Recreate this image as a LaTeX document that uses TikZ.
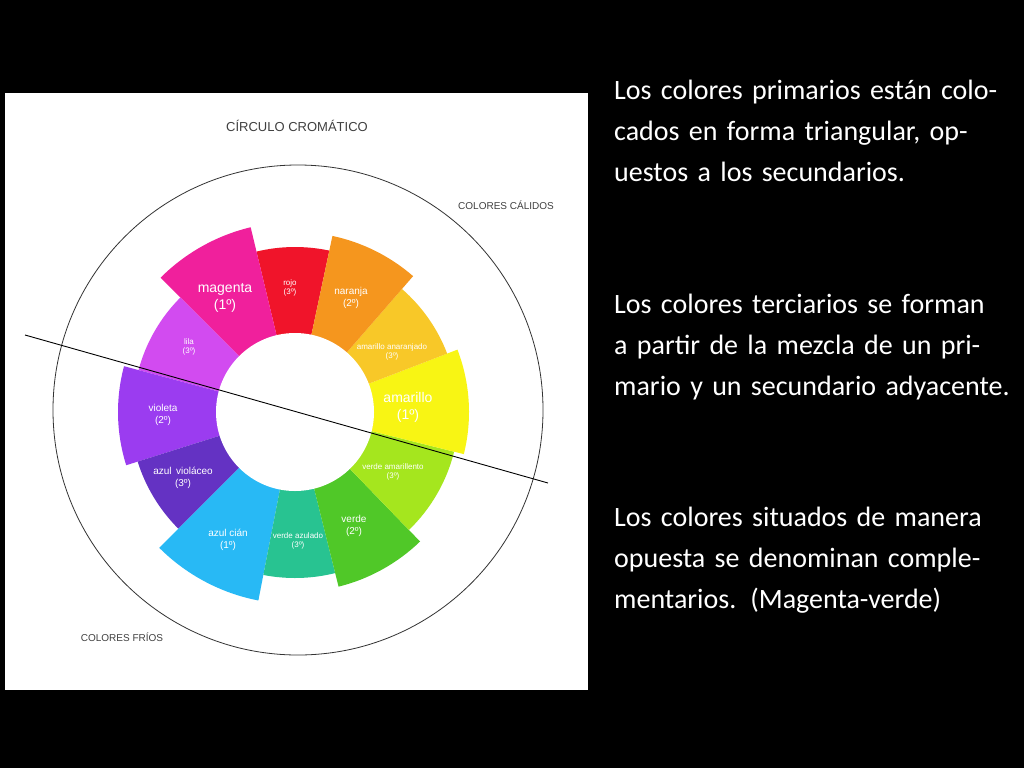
\documentclass[tikz,border=0pt]{standalone}
\usepackage{fontspec}
\setmainfont{Carlito}
\newfontfamily\lab{Liberation Sans}
\definecolor{cmag}{HTML}{F0209C}\definecolor{crojo}{HTML}{F0142A}
\definecolor{cnar}{HTML}{F5961E}\definecolor{caa}{HTML}{F8C828}
\definecolor{cama}{HTML}{F8F514}\definecolor{cva}{HTML}{A5E61E}
\definecolor{cver}{HTML}{50C828}\definecolor{cvaz}{HTML}{28C391}
\definecolor{ccian}{HTML}{28B9F5}\definecolor{cvio}{HTML}{6432C3}
\definecolor{cviol}{HTML}{9B3CF0}\definecolor{clila}{HTML}{D24BF0}
\definecolor{gtxt}{HTML}{404040}
\tikzset{x=1pt,y=-1pt,
 wl/.style={text=white,font=\lab\fontsize{8}{9}\selectfont,align=center,inner sep=0},
 wb/.style={text=white,font=\lab\fontsize{14}{17}\selectfont,align=center,inner sep=0},
 wm/.style={text=white,font=\lab\fontsize{10}{12}\selectfont,align=center,inner sep=0},
 gl/.style={text=gtxt,font=\lab\fontsize{10}{12}\selectfont,inner sep=0},
 body/.style={text=white,font=\fontsize{28}{41}\selectfont,align=left,anchor=north west,inner sep=0,text width=400pt}}
\begin{document}
\begin{tikzpicture}
\fill[black] (0,0) rectangle (1024,768);
\useasboundingbox (0,0) rectangle (1024,768);
\fill[white] (5,93) rectangle (588,690);
\node[gl,font=\lab\fontsize{13}{15}\selectfont] (title) at (297,126) {CÍRCULO CROMÁTICO};
\node[gl] (cal) at (506,205) {COLORES CÁLIDOS};
\node[gl] (fri) at (122,637) {COLORES FRÍOS};
\draw[black!80,line width=0.8pt] (298,410) circle (245);
% sectors: start angle, end angle, radius, color (math angles, y down so use -angle)
\foreach \a/\b/\r/\c in {78/103.5/165/crojo,103.5/135/190/cmag,135/165/162/clila,165/197.5/177/cviol,197.5/225/165/cvio,225/259/192/ccian,259/284/166/cvaz,284/314/180/cver,314/346/164/cva,346/381/174/cama,381/409/163/caa,409/438/180/cnar}{
 \fill[\c] (295,412) -- ++(-\a:\r) arc[start angle=-\a,end angle=-\b,radius=\r] -- cycle;
}
\fill[white] (295,412) circle (79);
\node[wl] (rojo) at (290,288) {rojo\\(3º)};
\node[wb] (mag) at (225,298) {magenta\\(1º)};
\node[wm] (nar) at (351,298) {naranja\\(2º)};
\node[wl] (aa) at (392,352) {amarillo anaranjado\\(3º)};
\node[wb] (ama) at (408,407) {amarillo\\(1º)};
\node[wl] (va) at (393,472) {verde amarillento\\(3º)};
\node[wm] (ver) at (354,526) {verde\\(2º)};
\node[wl] (vaz) at (298,541) {verde azulado\\(3º)};
\node[wm] (cian) at (228,540) {azul cián\\(1º)};
\node[wm] (vio) at (183,478) {azul\, violáceo\\(3º)};
\node[wm] (viol) at (163,415) {violeta\\(2º)};
\node[wl] (lila) at (189,347) {lila\\(3º)};
\coordinate (l1) at (25,335);
\coordinate (l2) at (548,483);
\draw[black,line width=0.9pt] (l1) -- (l2);
\node[body] (t1) at (614,80) {Los colores primarios están colocados en forma triangular, opuestos a los secundarios.};
\node[body] (t2) at (614,294) {Los colores terciarios se forman a partir de la mezcla de un primario y un secundario adyacente.};
\node[body] (t3) at (614,507) {Los colores situados de manera opuesta se denominan complementarios. (Magenta-verde)};
\end{tikzpicture}
\end{document}
